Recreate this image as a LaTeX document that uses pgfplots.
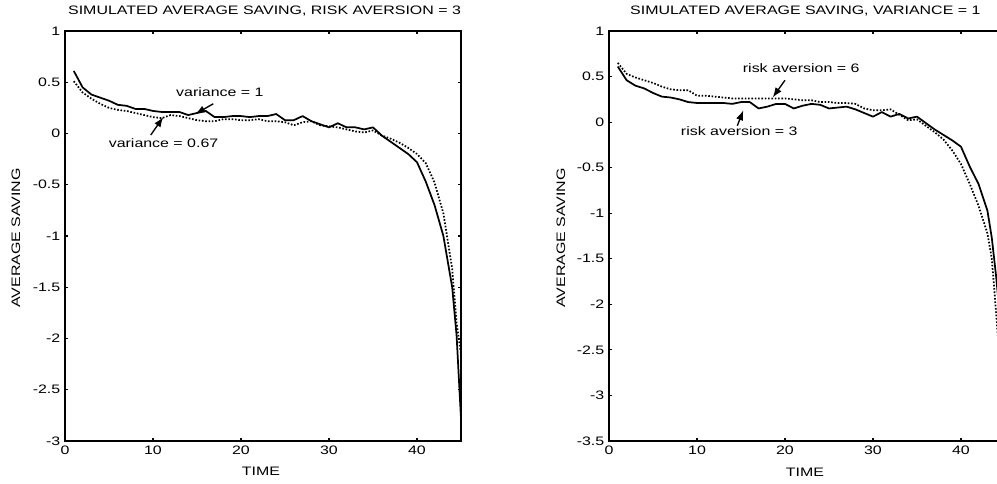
\documentclass[border=0pt]{standalone}
\usepackage{pgfplots}
\pgfplotsset{compat=1.18}
\usepackage{fontspec}
\setmainfont{Liberation Sans}[FakeStretch=1.3]
\usetikzlibrary{arrows.meta}
\newcommand{\lf}{\fontsize{9.2}{10}\selectfont}

\pgfplotstableread{
t v
1 0.61
2 0.45
3 0.38
4 0.35
5 0.32
6 0.28
7 0.27
8 0.24
9 0.24
10 0.22
11 0.21
12 0.21
13 0.21
14 0.18
15 0.20
16 0.22
17 0.16
18 0.16
19 0.17
20 0.17
21 0.16
22 0.17
23 0.17
24 0.19
25 0.13
26 0.13
27 0.17
28 0.12
29 0.09
30 0.06
31 0.10
32 0.06
33 0.06
34 0.04
35 0.06
36 -0.02
37 -0.08
38 -0.14
39 -0.20
40 -0.28
41 -0.47
42 -0.70
43 -1.00
44 -1.50
44.5 -1.97
45 -2.78
}\leftsolid

\pgfplotstableread{
t v
1 0.51
2 0.40
3 0.34
4 0.29
5 0.25
6 0.23
7 0.22
8 0.20
9 0.18
10 0.16
11 0.15
12 0.18
13 0.17
14 0.15
15 0.13
16 0.12
17 0.12
18 0.14
19 0.14
20 0.13
21 0.13
22 0.14
23 0.12
24 0.12
25 0.11
26 0.08
27 0.11
28 0.12
29 0.08
30 0.07
31 0.06
32 0.04
33 0.02
34 0.01
35 0.03
36 -0.02
37 -0.05
38 -0.09
39 -0.14
40 -0.20
41 -0.29
42 -0.48
43 -0.78
44 -1.32
44.5 -1.85
45 -2.15
}\leftdotted

\pgfplotstableread{
t v
1 0.61
2 0.46
3 0.40
4 0.37
5 0.32
6 0.28
7 0.27
8 0.25
9 0.22
10 0.21
11 0.21
12 0.21
13 0.21
14 0.20
15 0.22
16 0.22
17 0.15
18 0.17
19 0.20
20 0.20
21 0.15
22 0.18
23 0.20
24 0.19
25 0.15
26 0.16
27 0.17
28 0.14
29 0.10
30 0.06
31 0.11
32 0.06
33 0.09
34 0.04
35 0.06
36 -0.01
37 -0.08
38 -0.14
39 -0.20
40 -0.27
41 -0.49
42 -0.68
43 -0.97
43.5 -1.27
44 -1.70
45 -2.75
}\rightsolid

\pgfplotstableread{
t v
1 0.65
2 0.53
3 0.49
4 0.46
5 0.43
6 0.39
7 0.36
8 0.35
9 0.35
10 0.29
11 0.29
12 0.28
13 0.27
14 0.26
15 0.26
16 0.26
17 0.26
18 0.26
19 0.26
20 0.26
21 0.25
22 0.24
23 0.24
24 0.22
25 0.22
26 0.21
27 0.21
28 0.20
29 0.15
30 0.13
31 0.13
32 0.14
33 0.08
34 0.02
35 0.03
36 -0.04
37 -0.11
38 -0.19
39 -0.31
40 -0.46
41 -0.68
42 -0.92
43 -1.22
43.5 -1.50
44 -2.10
45 -3.40
}\rightdotted

\pgfplotsset{myax/.style={
  scale only axis, width=297pt, height=307.5pt, anchor=south west,
  xmin=0, xmax=45, xtick={0,10,20,30,40},
  tick align=inside, major tick length=2.6pt,
  every tick/.style={black, line width=0.9pt},
  axis line style={line width=1.4pt},
  ticklabel style={font=\lf},
  /pgf/number format/assume math mode=true,
  yticklabel style={/pgf/number format/fixed},
  clip=true,
}}
\tikzset{solidser/.style={black, line width=1.3pt, line join=round},
         dotser/.style={black, line width=1.3pt, dash pattern=on 1.2pt off 1.3pt},
         arr/.style={-{Latex[length=7.5pt,width=5.5pt]}, line width=1pt, black}}

\begin{document}
\begin{tikzpicture}
\useasboundingbox (0,0) rectangle (747.75pt,362.25pt);
\clip (0,0) rectangle (747.75pt,362.25pt);

\begin{axis}[myax, at={(48.75pt,31.5pt)}, ymin=-3, ymax=1, ytick={-3,-2.5,...,1}]
\addplot[solidser] table[x=t,y=v] {\leftsolid};
\addplot[dotser] table[x=t,y=v] {\leftdotted};
\node[font=\lf] at (axis cs:17.6,0.40) {variance = 1};
\draw[arr] (axis cs:16.85,0.29) -- (axis cs:14.8,0.19);
\node[font=\lf] at (axis cs:11.2,-0.09) {variance = 0.67};
\draw[arr] (axis cs:9.74,-0.015) -- (axis cs:11.17,0.16);
\end{axis}

\begin{axis}[myax, at={(456.75pt,31.5pt)}, ymin=-3.5, ymax=1, ytick={-3.5,-3,...,1}]
\addplot[solidser] table[x=t,y=v] {\rightsolid};
\addplot[dotser] table[x=t,y=v] {\rightdotted};
\node[font=\lf] at (axis cs:21.84,0.59) {risk aversion = 6};
\draw[arr] (axis cs:20.0,0.46) -- (axis cs:18.6,0.27);
\node[font=\lf] at (axis cs:14.8,-0.094) {risk aversion = 3};
\draw[arr] (axis cs:14.58,-0.04) -- (axis cs:15.26,0.13);
\end{axis}

\node[font=\lf] at (198.4pt,354.2pt) {SIMULATED AVERAGE SAVING, RISK AVERSION = 3};
\node[font=\lf] at (195.75pt,8.5pt) {TIME};
\node[font=\lf, rotate=90] at (12pt,183.75pt) {AVERAGE SAVING};
\node[font=\lf] at (604pt,354.2pt) {SIMULATED AVERAGE SAVING, VARIANCE = 1};
\node[font=\lf] at (603.75pt,8pt) {TIME};
\node[font=\lf, rotate=90] at (420.6pt,183.75pt) {AVERAGE SAVING};
\end{tikzpicture}
\end{document}
